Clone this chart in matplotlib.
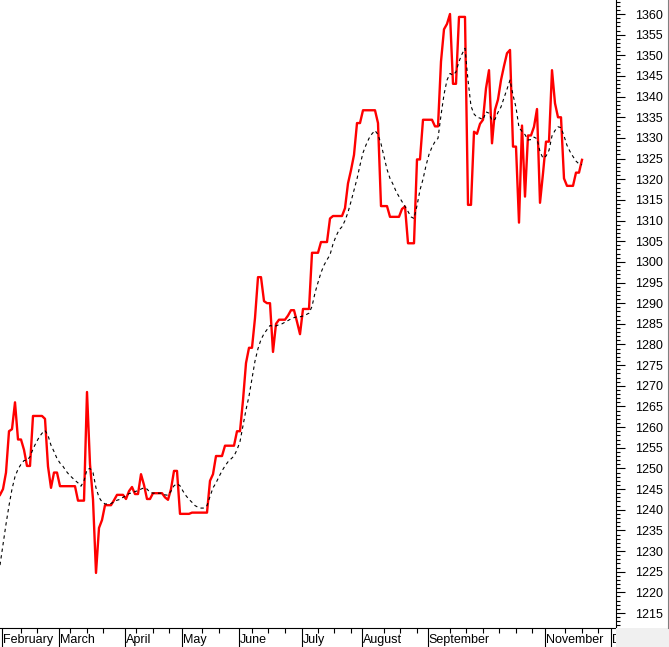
import matplotlib
matplotlib.use('Agg')
import matplotlib.pyplot as plt
import matplotlib.transforms as mtransforms
from matplotlib.patches import Rectangle
from matplotlib.lines import Line2D
import numpy as np

plt.rcParams['font.family'] = ['Liberation Sans', 'DejaVu Sans']

# daily closes (one per trading day)
price = [
    1243.6, 1245.0, 1249.0, 1259.0, 1259.5, 1266.0, 1257.0, 1257.0, 1254.5, 1250.6,
    1250.6, 1262.7, 1262.7, 1262.7, 1262.7, 1262.0, 1250.5, 1245.3, 1249.0, 1249.0,
    1245.7, 1245.7, 1245.7, 1245.7, 1245.7, 1245.7, 1242.2, 1242.2, 1242.2, 1268.5,
    1251.0, 1242.5, 1224.7, 1235.6, 1237.5, 1241.1, 1241.1, 1241.1, 1242.3, 1243.6,
    1243.6, 1243.6, 1242.6, 1244.5, 1245.5, 1243.8, 1243.8, 1248.6, 1246.0, 1242.6,
    1242.6, 1244.0, 1244.0, 1244.0, 1244.0, 1243.0, 1242.4, 1245.0, 1249.4, 1249.4,
    1239.0, 1239.0, 1239.0, 1239.0, 1239.3, 1239.3, 1239.3, 1239.3, 1239.3, 1239.3,
    1247.0, 1248.6, 1253.0, 1253.0, 1253.0, 1255.5, 1255.5, 1255.5, 1255.5, 1259.0,
    1259.0, 1266.5, 1275.5, 1279.2, 1279.2, 1286.4, 1296.3, 1296.3, 1290.5, 1290.0,
    1290.0, 1278.2, 1285.0, 1286.0, 1286.0, 1286.0, 1287.0, 1288.3, 1288.3, 1285.5,
    1282.5, 1288.6, 1288.6, 1288.6, 1302.2, 1302.2, 1302.2, 1304.8, 1304.8, 1304.8,
    1310.5, 1311.1, 1311.1, 1311.1, 1311.1, 1313.0, 1319.0, 1322.2, 1325.9, 1333.6,
    1333.6, 1336.7, 1336.7, 1336.7, 1336.7, 1336.7, 1333.6, 1313.5, 1313.5, 1313.5,
    1310.9, 1310.9, 1310.9, 1310.9, 1312.8, 1313.4, 1304.5, 1304.5, 1304.5, 1324.8,
    1324.8, 1334.4, 1334.4, 1334.4, 1334.4, 1332.8, 1332.8, 1348.5, 1356.3, 1357.6,
    1360.0, 1343.1, 1343.1, 1359.3, 1359.3, 1359.3, 1313.8, 1313.8, 1331.5, 1331.0,
    1333.4, 1334.4, 1342.0, 1346.4, 1328.7, 1336.8, 1339.3, 1344.0, 1347.4, 1350.5,
    1351.3, 1327.9, 1327.9, 1309.5, 1333.0, 1315.8, 1330.6, 1330.6, 1332.7, 1337.0,
    1314.3, 1321.4, 1329.1, 1329.1, 1346.4, 1338.4, 1335.0, 1335.0, 1320.2, 1318.4,
    1318.4, 1318.4, 1321.6, 1321.6, 1324.7,
]

# moving average (dashed)
avg = [
    1226.6, 1231.5, 1236.5, 1241.0, 1245.0, 1248.0, 1249.8, 1251.0, 1251.9, 1252.0,
    1252.8, 1254.7, 1256.2, 1257.5, 1258.5, 1259.2, 1258.0, 1255.6, 1254.1, 1252.4,
    1251.3, 1250.5, 1249.4, 1248.5, 1247.8, 1247.1, 1246.5, 1245.7, 1247.0, 1249.7,
    1250.0, 1249.0, 1245.3, 1243.0, 1241.9, 1241.4, 1241.4, 1241.5, 1241.9, 1242.3,
    1242.5, 1243.0, 1243.4, 1243.9, 1244.1, 1244.4, 1244.6, 1245.0, 1245.3, 1245.0,
    1244.2, 1244.0, 1244.0, 1244.0, 1244.0, 1243.6, 1243.5, 1244.5, 1245.8, 1246.3,
    1245.8, 1244.5, 1243.4, 1242.5, 1241.8, 1241.0, 1240.6, 1240.4, 1240.4, 1241.0,
    1243.2, 1245.3, 1246.5, 1248.0, 1249.4, 1250.6, 1251.6, 1252.3, 1253.0, 1254.5,
    1256.5, 1260.3, 1264.2, 1267.5, 1271.8, 1276.0, 1279.0, 1281.2, 1282.6, 1283.6,
    1284.6, 1284.4, 1284.5, 1284.8, 1285.0, 1285.4, 1285.8, 1286.2, 1286.5, 1286.7,
    1286.7, 1286.9, 1287.2, 1287.6, 1289.2, 1292.5, 1295.0, 1297.4, 1299.2, 1300.5,
    1301.7, 1304.3, 1306.2, 1307.7, 1308.5, 1310.0, 1312.0, 1314.6, 1317.3, 1320.1,
    1323.4, 1326.4, 1328.3, 1329.9, 1331.0, 1331.8, 1330.8, 1328.6, 1325.5, 1322.4,
    1320.2, 1318.8, 1317.1, 1315.8, 1314.6, 1313.4, 1312.2, 1310.9, 1310.5, 1313.6,
    1317.4, 1320.0, 1323.3, 1326.0, 1327.8, 1329.1, 1329.9, 1335.5, 1340.5, 1344.0,
    1345.6, 1345.2, 1346.0, 1348.5, 1350.3, 1351.7, 1344.0, 1337.7, 1335.8, 1335.0,
    1334.8, 1334.4, 1336.3, 1336.0, 1334.2, 1334.5, 1336.2, 1337.5, 1339.7, 1341.8,
    1344.0, 1340.4, 1337.4, 1332.5, 1331.6, 1330.8, 1329.5, 1329.6, 1330.2, 1329.8,
    1326.7, 1325.1, 1325.6, 1327.0, 1330.5, 1331.8, 1332.7, 1332.5, 1330.5, 1328.2,
    1326.7, 1325.5, 1324.4, 1323.7, 1323.5,
]

month_names = ['February', 'March', 'April', 'May', 'June', 'July',
               'August', 'September', 'November', 'December']
month_starts = [0.5, 19.5, 41.5, 60.5, 79.5, 100.5, 120.5, 142.5, 181.5, 203.5]

W, H = 669, 647
fig = plt.figure(figsize=(W / 100, H / 100), dpi=100)
ax = fig.add_axes([0, 19 / H, 616 / W, 628 / H])

x = np.arange(len(price))
ax.plot(x, price, color='#ff0000', lw=1.7, zorder=2)
ax.plot(x, avg, color='black', lw=0.8, linestyle=(0, (3, 3)), zorder=3)

ax.set_xlim(0, 616 / 3)
ax.set_ylim(1211.37, 1363.39)

for s in ['left', 'top']:
    ax.spines[s].set_visible(False)
ax.spines['right'].set_linewidth(0.8)
ax.spines['bottom'].set_linewidth(0.8)

ax.yaxis.tick_right()
ax.set_yticks(np.arange(1215, 1361, 5))
ax.set_yticks(np.arange(1212, 1364, 1), minor=True)
ax.tick_params(axis='y', which='major', length=6.5, width=0.8, pad=7,
               labelsize=9, direction='out')
ax.tick_params(axis='y', which='minor', length=3, width=0.8, direction='out')

ax.set_xticks(month_starts)
ax.set_xticklabels([])
weeks = [w for w in np.arange(1.4, 205, 5.5)
         if min(abs(w - m) for m in month_starts) > 2]
ax.set_xticks(weeks, minor=True)
ax.tick_params(axis='x', which='major', length=14, width=0.8, direction='out')
ax.tick_params(axis='x', which='minor', length=3.5, width=0.8, direction='out')

trans = mtransforms.blended_transform_factory(ax.transData, ax.transAxes)
for m, name in zip(month_starts, month_names):
    ax.text(m + 0.4, -0.019, name, transform=trans, ha='left', va='center',
            fontsize=9, clip_on=False)

# grey corner under the price scale
fig.add_artist(Rectangle((616 / W, 0), 53 / W, 19 / H, transform=fig.transFigure,
                         facecolor='#f0f0f0', edgecolor='none', zorder=10))
fig.add_artist(Line2D([667.5 / W, 667.5 / W], [19 / H, 1], transform=fig.transFigure,
                      color='#808080', lw=0.8, zorder=10))

fig.savefig('out.png', dpi=100)
